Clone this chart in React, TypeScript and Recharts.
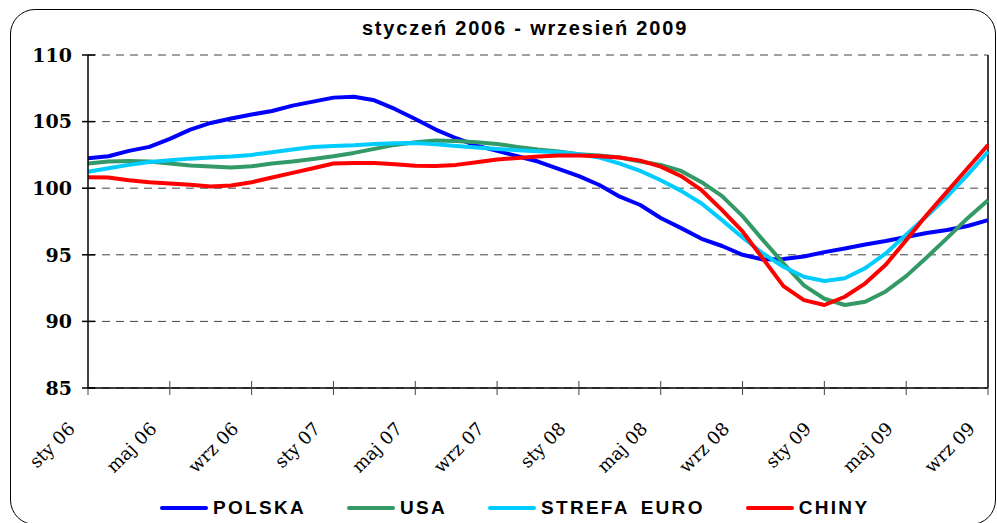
import React from 'react';
import { LineChart, Line, XAxis, YAxis, CartesianGrid, ReferenceLine, Legend } from 'recharts';

const months = [
  'sty 06','lut 06','mar 06','kwi 06','maj 06','cze 06','lip 06','sie 06','wrz 06','paź 06','lis 06','gru 06',
  'sty 07','lut 07','mar 07','kwi 07','maj 07','cze 07','lip 07','sie 07','wrz 07','paź 07','lis 07','gru 07',
  'sty 08','lut 08','mar 08','kwi 08','maj 08','cze 08','lip 08','sie 08','wrz 08','paź 08','lis 08','gru 08',
  'sty 09','lut 09','mar 09','kwi 09','maj 09','cze 09','lip 09','sie 09','wrz 09',
];

const polska = [102.25, 102.4, 102.8, 103.1, 103.7, 104.4, 104.9, 105.23, 105.53, 105.8, 106.2, 106.5, 106.8, 106.87, 106.6, 105.95, 105.2, 104.4, 103.75, 103.2, 102.8, 102.4, 102.0, 101.45, 100.9, 100.24, 99.36, 98.74, 97.76, 97.0, 96.2, 95.66, 95.0, 94.65, 94.68, 94.87, 95.2, 95.47, 95.77, 96.03, 96.33, 96.64, 96.86, 97.16, 97.6];
const usa = [101.85, 102.0, 102.05, 102.0, 101.85, 101.7, 101.62, 101.55, 101.65, 101.85, 102.0, 102.2, 102.4, 102.65, 102.95, 103.25, 103.45, 103.58, 103.55, 103.45, 103.32, 103.1, 102.9, 102.75, 102.55, 102.45, 102.3, 102.0, 101.75, 101.3, 100.45, 99.4, 97.9, 96.1, 94.36, 92.7, 91.7, 91.23, 91.48, 92.25, 93.4, 94.8, 96.25, 97.75, 99.1];
const strefaEuro = [101.24, 101.5, 101.75, 101.97, 102.1, 102.22, 102.3, 102.38, 102.5, 102.7, 102.9, 103.1, 103.17, 103.22, 103.32, 103.38, 103.4, 103.3, 103.17, 103.05, 102.95, 102.85, 102.77, 102.7, 102.55, 102.3, 101.85, 101.3, 100.6, 99.8, 98.85, 97.6, 96.3, 95.1, 94.1, 93.35, 93.03, 93.24, 94.0, 95.1, 96.5, 97.9, 99.36, 101.0, 102.74];
const chiny = [100.82, 100.8, 100.6, 100.45, 100.35, 100.25, 100.12, 100.2, 100.45, 100.8, 101.15, 101.5, 101.85, 101.9, 101.9, 101.8, 101.68, 101.67, 101.75, 101.95, 102.15, 102.27, 102.38, 102.45, 102.45, 102.4, 102.3, 102.07, 101.62, 100.9, 99.85, 98.35, 96.75, 94.7, 92.65, 91.6, 91.23, 91.85, 92.86, 94.25, 96.1, 97.99, 99.74, 101.5, 103.24];

const yTicks = [85, 90, 95, 100, 105, 110];

const seriesDefs = [
  { key: 'polska', name: 'POLSKA', color: '#0000FF' },
  { key: 'usa', name: 'USA', color: '#339966' },
  { key: 'euro', name: 'STREFA EURO', color: '#00CCFF' },
  { key: 'chiny', name: 'CHINY', color: '#FF0000' },
];

const data = months.map((m, i) => ({
  month: m,
  polska: polska[i],
  usa: usa[i],
  euro: strefaEuro[i],
  chiny: chiny[i],
}));

const XTick = (props: any) => {
  const { x, y, payload } = props;
  const tx = x - 12;
  const ty = y + 42;
  return (
    <g>
      <line x1={x} x2={x} y1={y - 7} y2={y + 7} stroke="#444" strokeWidth={1} />
      <text
        x={tx}
        y={ty}
        textAnchor="end"
        transform={`rotate(-45 ${tx} ${ty})`}
        fontFamily="DejaVu Serif"
        fontSize={18}
        fill="#000"
      >
        {payload.value}
      </text>
    </g>
  );
};

const YTick = (props: any) => {
  const { x, y, payload } = props;
  return (
    <g>
      <line x1={x - 6} x2={x + 7} y1={y} y2={y} stroke="#000" strokeWidth={1.5} />
      <text
        x={x - 16}
        y={y}
        dy="0.36em"
        textAnchor="end"
        fontFamily="DejaVu Serif"
        fontWeight="bold"
        fontSize={19}
        fill="#000"
      >
        {payload.value}
      </text>
    </g>
  );
};

const renderLegend = () => (
  <div
    style={{
      display: 'flex',
      justifyContent: 'flex-start',
      alignItems: 'center',
      gap: 41,
      paddingLeft: 160,
      height: 24,
    }}
  >
    {seriesDefs.map((s) => (
      <div key={s.key} style={{ display: 'flex', alignItems: 'center', gap: 5 }}>
        <span
          style={{
            display: 'inline-block',
            width: 48,
            height: 4.5,
            borderRadius: 2.25,
            background: s.color,
          }}
        />
        <span
          style={{
            fontFamily: 'Liberation Sans, Arial, sans-serif',
            fontWeight: 'bold',
            fontSize: 19,
            letterSpacing: 2.3,
            wordSpacing: 4,
            lineHeight: '24px',
            whiteSpace: 'nowrap',
            color: '#000',
          }}
        >
          {s.name}
        </span>
      </div>
    ))}
  </div>
);

export default function App() {
  return (
    <div
      style={{
        position: 'absolute',
        left: 0,
        top: 0,
        width: 997,
        height: 523,
        overflow: 'hidden',
        background: '#fff',
      }}
    >
      <div
        style={{
          position: 'absolute',
          left: 10,
          top: 9,
          width: 986,
          height: 516,
          boxSizing: 'border-box',
          border: '1.5px solid #000',
          borderRadius: 25,
        }}
      />
      <div
        style={{
          position: 'absolute',
          left: 0,
          top: 17,
          width: 1050,
          textAlign: 'center',
          fontFamily: 'Liberation Sans, Arial, sans-serif',
          fontWeight: 'bold',
          fontSize: 20,
          letterSpacing: 1.8,
          lineHeight: '23px',
          color: '#000',
        }}
      >
        styczeń 2006 - wrzesień 2009
      </div>
      <div style={{ position: 'absolute', left: 0, top: 0 }}>
        <LineChart
          width={997}
          height={523}
          data={data}
          margin={{ top: 55, right: 9, left: 28, bottom: 95 }}
        >
          <CartesianGrid vertical={false} stroke="#444" strokeDasharray="8 6" />
          <XAxis
            dataKey="month"
            interval={3}
            height={40}
            tickSize={0}
            tickMargin={0}
            tickLine={false}
            axisLine={{ stroke: '#000', strokeWidth: 1.5 }}
            tick={<XTick />}
            padding={{ left: 0, right: 0 }}
          />
          <YAxis
            domain={[85, 110]}
            ticks={yTicks}
            width={60}
            tickSize={0}
            tickMargin={0}
            tickLine={false}
            axisLine={{ stroke: '#000', strokeWidth: 1.5 }}
            tick={<YTick />}
            allowDataOverflow
          />
          <ReferenceLine x="wrz 09" stroke="#000" strokeWidth={1.5} />
          {seriesDefs.map((s) => (
            <Line
              key={s.key}
              dataKey={s.key}
              name={s.name}
              stroke={s.color}
              strokeWidth={4}
              dot={false}
              type="linear"
              strokeLinejoin="round"
              isAnimationActive={false}
            />
          ))}
          <Legend
            layout="horizontal"
            verticalAlign="middle"
            align="center"
            wrapperStyle={{ top: 496, left: 0, width: 997 }}
            content={renderLegend}
          />
        </LineChart>
      </div>
    </div>
  );
}
